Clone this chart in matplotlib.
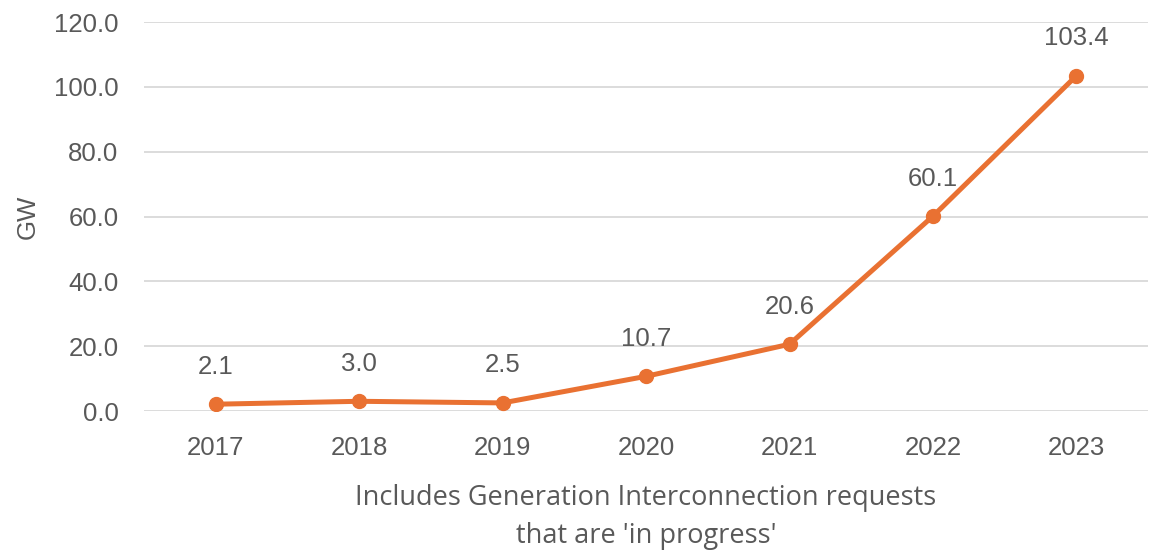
import matplotlib.pyplot as plt

years = ['2017', '2018', '2019', '2020', '2021', '2022', '2023']
gw = [2.1, 3.0, 2.5, 10.7, 20.6, 60.1, 103.4]
yticks = [0, 20, 40, 60, 80, 100, 120]

orange = '#E97132'
gray = '#595959'

fig = plt.figure(figsize=(11.53, 5.5), dpi=100)
ax = fig.add_axes([0.125, 0.2527, 0.8707, 0.7073])

x = list(range(len(years)))
ax.plot(x, gw, color=orange, linewidth=3.6, marker='o', markersize=10,
        solid_capstyle='round', zorder=3)

for xi, v in zip(x, gw):
    ax.annotate(f'{v:.1f}', (xi, v), xytext=(0, 27), textcoords='offset points',
                ha='center', va='center', fontsize=18.5, color=gray,
                family='Liberation Sans')

ax.set_xlim(-0.5, len(years) - 0.5)
ax.set_ylim(0, 120)
ax.set_xticks(x)
ax.set_xticklabels(years)
ax.set_yticks(yticks)
ax.set_yticklabels([f'{t:.1f}' for t in yticks])
ax.tick_params(length=0, labelsize=18.5, labelcolor=gray)
ax.tick_params(axis='y', pad=18.5)
ax.tick_params(axis='x', pad=18)
for lab in ax.get_xticklabels() + ax.get_yticklabels():
    lab.set_family('Liberation Sans')

ax.grid(axis='y', color='#D9D9D9', linewidth=1.3)
ax.set_axisbelow(True)
for s in ax.spines.values():
    s.set_visible(False)

ax.set_ylabel('GW', fontsize=18.5, color=gray, family='Liberation Sans', labelpad=10)
ax.set_xlabel("Includes Generation Interconnection requests\nthat are 'in progress'",
              fontsize=19.5, color=gray, family='Open Sans', labelpad=17,
              linespacing=1.5)

fig.savefig('out.png', dpi=100)
